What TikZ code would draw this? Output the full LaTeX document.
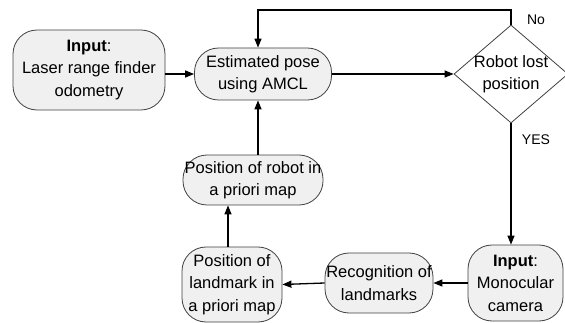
\documentclass[tikz,border=0pt]{standalone}
\usepackage{fontspec}
\setmainfont{Liberation Sans}
\usetikzlibrary{shapes.geometric,arrows.meta}
\begin{document}
\begin{tikzpicture}[x=1pt,y=-1pt,
  box/.style={draw=black!75, fill=gray!12, rounded corners=24pt, line width=0.8pt,
    align=center, font=\fontsize{16.5}{22.5}\selectfont, inner sep=0pt},
  decision/.style={draw=black!75, fill=white, diamond, shape aspect=1.2, line width=0.8pt,
    align=center, font=\fontsize{16.5}{22.5}\selectfont, inner sep=-6pt},
  conn/.style={line width=1.3pt, -{Triangle[length=9pt,width=7pt]}},
  lab/.style={font=\fontsize{14}{16}\selectfont}]
\useasboundingbox (0,0) rectangle (565,323);
\node[box, minimum width=152pt, minimum height=80pt] (in1) at (89,70) {\textbf{Input}:\\Laser range finder\\odometry};
\node[box, minimum width=137pt, minimum height=52pt] (est) at (263,74) {Estimated pose\\using AMCL};
\node[decision, minimum width=114pt, minimum height=98pt] (dia) at (511,74) {Robot lost\\position};
\node[box, minimum width=95pt, minimum height=76pt] (mono) at (515.5,283) {\textbf{Input}:\\Monocular\\camera};
\node[box, minimum width=108pt, minimum height=60pt] (rec) at (379,283) {Recognition of\\landmarks};
\node[box, minimum width=100pt, minimum height=75pt] (land) at (232,284.5) {Position of\\landmark in\\a priori map};
\node[box, minimum width=140pt, minimum height=50pt] (rob) at (253,180) {Position of robot in\\a priori map};
\coordinate (loopx) at (258,10);
\node[lab] (no) at (536,20) {No};
\node[lab] (yes) at (536,140) {YES};
\draw[conn] (in1.east |- est) -- (est.west);
\draw[conn] (est.east) -- (dia.west);
\draw[conn] (dia.north) |- (loopx) -- (loopx |- est.north);
\draw[conn] (dia.south) -- (dia.south |- mono.north);
\draw[conn] (mono.west) -- (rec.east);
\draw[conn] (rec.west) -- (land.east);
\draw[conn] ([xshift=-4pt]land.north) -- ([xshift=-4pt]land.north |- rob.south);
\draw[conn] (rob.north -| loopx) -- (loopx |- est.south);
\end{tikzpicture}
\end{document}
